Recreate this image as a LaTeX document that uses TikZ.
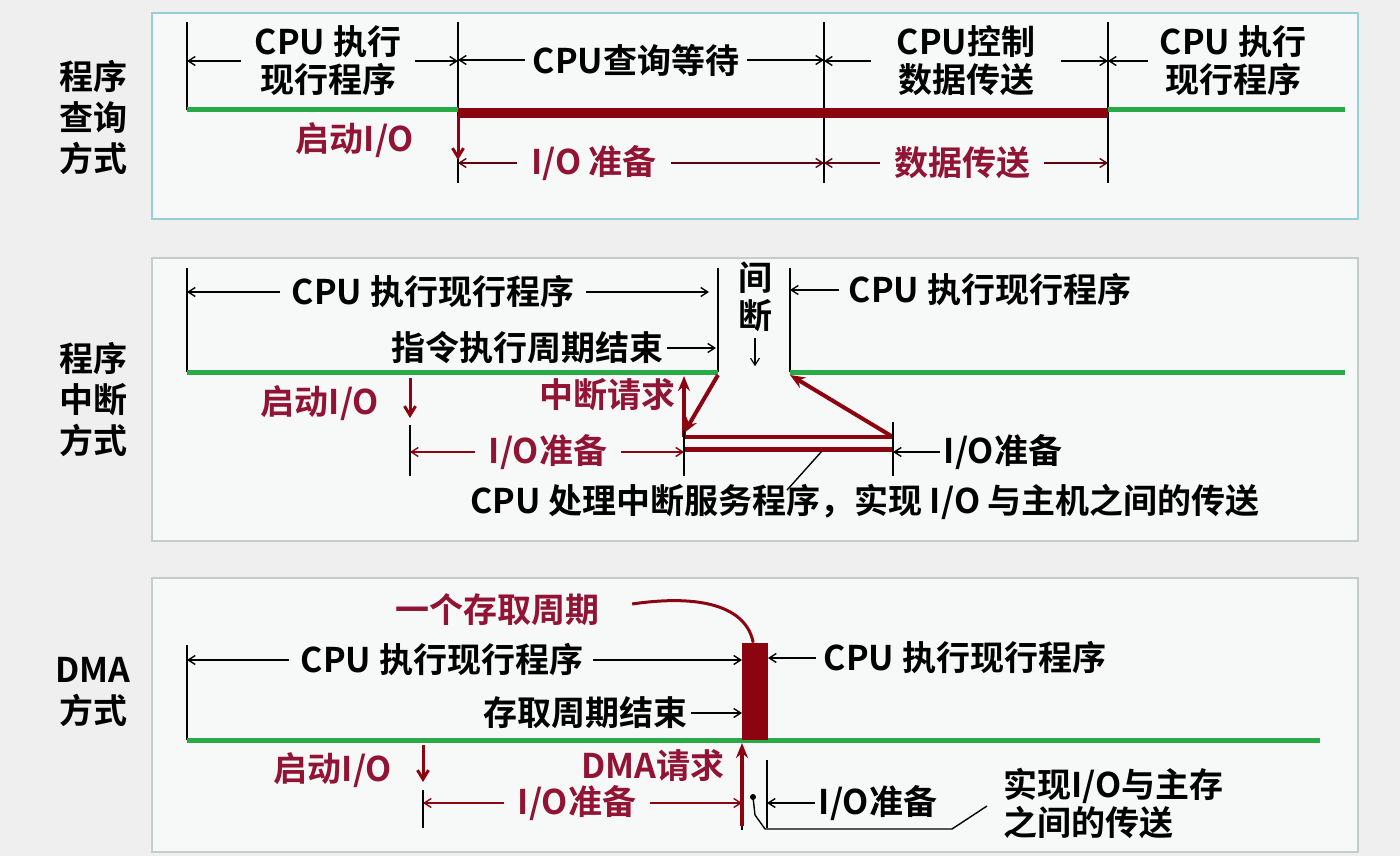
\documentclass[tikz,border=0pt]{standalone}
\usepackage{fontspec}
\setmainfont{Noto Sans CJK SC}[BoldFont={Noto Sans CJK SC Bold}]
\usepackage{xcolor}
\usetikzlibrary{arrows.meta, positioning, calc}
\definecolor{bgray}{RGB}{239,239,239}
\definecolor{panelfill}{RGB}{247,249,249}
\definecolor{panelcyan}{RGB}{150,208,214}
\definecolor{panelgray}{RGB}{196,204,204}
\definecolor{ioRed}{RGB}{140,4,16}
\definecolor{textRed}{RGB}{146,20,52}
\definecolor{runGreen}{RGB}{40,170,70}

\begin{document}
\begin{tikzpicture}[x=1pt, y=-1pt,
    txt/.style={font=\fontsize{34}{38}\selectfont\bfseries, inner sep=0pt, align=center},
    redtxt/.style={txt, text=textRed},
    mode/.style={txt, font=\fontsize{34}{41}\selectfont\bfseries},
    dim/.style={-{Straight Barb[length=7pt,width=9pt]}, line width=1.4pt},
    tick/.style={line width=1.4pt},
    run/.style={runGreen, line width=5pt},
    busy/.style={ioRed, line width=10pt},
    kick/.style={ioRed, line width=3pt, -{Straight Barb[length=9pt,width=11pt]}},
    req/.style={ioRed, line width=4pt, -{Stealth[length=15pt,width=12pt]}},
    panel/.style={fill=panelfill, line width=1.5pt}]
    \fill[bgray] (0,0) rectangle (1400,856);
    \useasboundingbox (0,0) rectangle (1400,856);

    % Program query
    \draw[panel, draw=panelcyan] (152,13) rectangle (1358,219);
    \node[mode] (mode1) at (93,118) {程序\\查询\\方式};
    \coordinate (q0) at (187,110);
    \coordinate (q1) at (458,110);
    \coordinate (q2) at (824,110);
    \coordinate (q3) at (1108,110);
    \coordinate (q4) at (1345,110);
    \draw[tick] (187,22) -- (q0);
    \draw[tick] (458,22) -- (458,183);
    \draw[tick] (824,22) -- (824,183);
    \draw[tick] (1108,22) -- (1108,183);
    \draw[run] (q0) -- (q1);
    \draw[busy] ([yshift=-3pt]q1) -- ([yshift=-3pt]q3);
    \draw[run] (q3) -- (q4);

    \node[txt] (run1) at (328,61) {CPU 执行\\现行程序};
    \draw[dim] ([xshift=-14pt]run1.west) -- (run1.west -| q0);
    \draw[dim] ([xshift=14pt]run1.east) -- (run1.east -| q1);
    \node[txt] (wait1) at (636,60) {CPU查询等待};
    \draw[dim] ([xshift=-8pt]wait1.west) -- (wait1.west -| q1);
    \draw[dim] ([xshift=8pt]wait1.east) -- (wait1.east -| q2);
    \node[txt] (ctrl1) at (966,61) {CPU控制\\数据传送};
    \draw[dim] ([xshift=-26pt]ctrl1.west) -- (ctrl1.west -| q2);
    \draw[dim] ([xshift=26pt]ctrl1.east) -- (ctrl1.east -| q3);
    \node[txt] (back1) at (1233,61) {CPU 执行\\现行程序};
    \draw[dim] ([xshift=-12pt]back1.west) -- (back1.west -| q3);

    \node[redtxt] (start1) at (355,140) {启动I/O};
    \draw[kick] ([yshift=-6pt]q1) -- ++(0,44);
    \node[redtxt] (prep1) at (594,163) {I/O 准备};
    \draw[dim, ioRed!70!black] ([xshift=-14pt]prep1.west) -- (prep1.west -| q1);
    \draw[dim, ioRed!70!black] ([xshift=14pt]prep1.east) -- (prep1.east -| q2);
    \node[redtxt] (xfer1) at (962,163) {数据传送};
    \draw[dim, ioRed!70!black] ([xshift=-14pt]xfer1.west) -- (xfer1.west -| q2);
    \draw[dim, ioRed!70!black] ([xshift=14pt]xfer1.east) -- (xfer1.east -| q3);

    % Program interrupt
    \draw[panel, draw=panelgray] (152,258) rectangle (1358,541);
    \node[mode] (mode2) at (93,400) {程序\\中断\\方式};
    \coordinate (i0) at (187,372);
    \coordinate (i1) at (718,372);
    \coordinate (i2) at (790,372);
    \coordinate (i3) at (1345,372);
    \coordinate (s0) at (684,437);
    \coordinate (s1) at (893,437);
    \coordinate (d2) at (410,452);
    \draw[tick] (187,268) -- (i0);
    \draw[tick] (718,268) -- (i1);
    \draw[tick] (790,268) -- (i2);
    \draw[run] (i0) -- (i1);
    \draw[run] (i2) -- (i3);

    \node[txt] (run2) at (433,292) {CPU 执行现行程序};
    \draw[dim] ([xshift=-12pt]run2.west) -- (run2.west -| i0);
    \draw[dim] ([xshift=12pt]run2.east) -- ([xshift=-9pt]run2.east -| i1);
    \node[txt] (end2) at (527,348) {指令执行周期结束};
    \draw[dim] ([xshift=4pt]end2.east) -- ([xshift=-2pt]end2.east -| i1);
    \node[txt] (gap2) at (755,297) {间\\断};
    \draw[dim, line width=1.2pt] ([yshift=-6pt]gap2.south) -- ++(0,28);
    \node[txt] (back2) at (990,290) {CPU 执行现行程序};
    \draw[dim] ([xshift=-10pt]back2.west) -- (back2.west -| i2);

    \node[redtxt] (irq2) at (607,395) {中断请求};
    \draw[ioRed, line width=4pt] (s0) -- (s1);
    \draw[ioRed, line width=5pt] ([yshift=-12pt]s0) -- ([yshift=-12pt]s1);
    \draw[req] ([yshift=-3pt]i1) -- ([yshift=4pt]s0);
    \draw[req] (s0) -- ([yshift=-4pt]s0 |- i1);
    \draw[req] (s1) -- ([yshift=-3pt]i2);
    \draw[tick] (684,430) -- (684,476);
    \draw[tick] (893,422) -- (893,476);

    \node[redtxt] (start2) at (320,403) {启动I/O};
    \draw[kick] (410,378) -- (410,418);
    \draw[tick] (410,425) -- (410,476);
    \node[redtxt] (prep2) at (548,452) {I/O准备};
    \draw[dim, ioRed] ([xshift=-14pt]prep2.west) -- (prep2.west -| d2);
    \draw[dim, ioRed] ([xshift=14pt]prep2.east) -- (prep2.east -| s0);
    \node[txt] (prep2b) at (1003,452) {I/O准备};
    \draw[dim] ([xshift=-4pt]prep2b.west) -- (prep2b.west -| s1);
    \node[txt] (isr2) at (865,502) {CPU 处理中断服务程序，实现 I/O 与主机之间的传送};
    \draw[tick] ([xshift=-78pt,yshift=-6pt]isr2.north) -- (822,451);

    % DMA
    \draw[panel, draw=panelgray] (152,578) rectangle (1358,852);
    \node[mode] (mode3) at (93,692) {DMA\\方式};
    \coordinate (k0) at (187,740);
    \coordinate (k1) at (742,740);
    \coordinate (k2) at (768,740);
    \coordinate (k3) at (1320,740);
    \coordinate (k4) at (767,803);
    \coordinate (d3) at (423,803);
    \draw[tick] (187,645) -- (k0);
    \draw[run] (k0) -- (k3);
    \node[fill=ioRed, inner sep=0pt, minimum width=26pt, minimum height=97pt,
          anchor=south west] (cyc3) at (k1) {};

    \node[redtxt] (one3) at (497,610) {一个存取周期};
    \draw[ioRed, line width=3pt] ([xshift=33pt,yshift=6pt]one3.east)
        .. controls (700,594) and (746,606) .. ([xshift=-2pt]cyc3.north);
    \node[txt] (run3) at (442,660) {CPU 执行现行程序};
    \draw[dim] ([xshift=-12pt]run3.west) -- (run3.west -| k0);
    \draw[dim] ([xshift=10pt]run3.east) -- (run3.east -| k1);
    \node[txt] (end3) at (585,713) {存取周期结束};
    \draw[dim] ([xshift=4pt]end3.east) -- (end3.east -| k1);
    \node[txt] (back3) at (965,658) {CPU 执行现行程序};
    \draw[dim] ([xshift=-8pt]back3.west) -- (back3.west -| k2);

    \node[redtxt] (start3) at (333,770) {启动I/O};
    \draw[kick] (423,745) -- (423,782);
    \draw[tick] (423,790) -- (423,828);
    \node[redtxt] (prep3) at (577,803) {I/O准备};
    \draw[dim, ioRed] ([xshift=-14pt]prep3.west) -- (prep3.west -| d3);
    \draw[dim, ioRed] ([xshift=14pt]prep3.east) -- (prep3.east -| k1);
    \node[redtxt] (dma3) at (653,766) {DMA请求};
    \draw[tick] (742,790) -- (742,830);
    \draw[req] (742,826) -- ([yshift=-3pt]k1);
    \draw[tick] (767,760) -- (767,828);
    \node[txt] (prep3b) at (878,803) {I/O准备};
    \draw[dim] ([xshift=-4pt]prep3b.west) -- (prep3b.west -| k4);
    \node[txt, align=left, anchor=west] (mem3) at (1003,803) {实现I/O与主存\\之间的传送};
    \fill (753,797) circle (3pt);
    \draw[tick] (753,797) -- (755,815) -- (765,829) -- (952,829) -- ([xshift=-16pt,yshift=-3pt]mem3.west);
\end{tikzpicture}
\end{document}
